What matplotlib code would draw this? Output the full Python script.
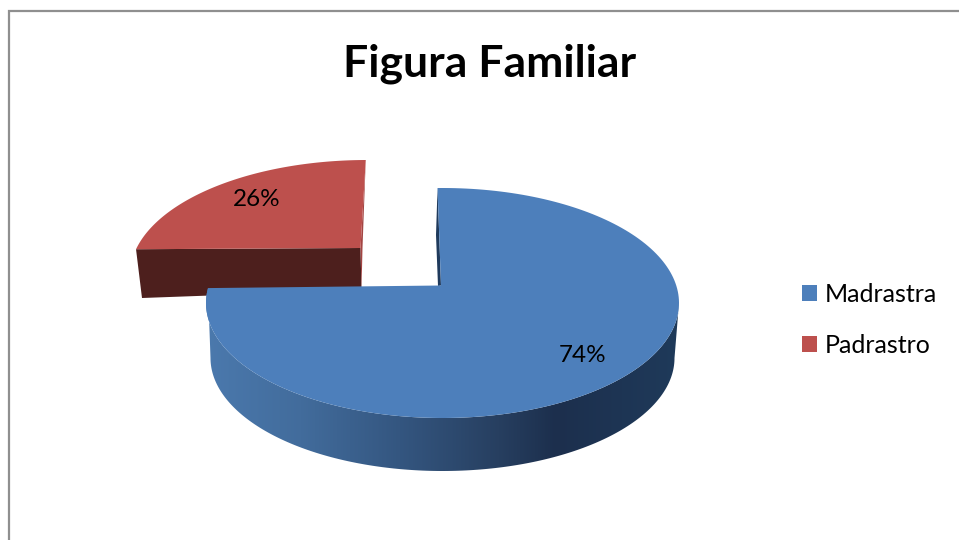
import numpy as np
import matplotlib
matplotlib.use("Agg")
import matplotlib.pyplot as plt
from matplotlib.patches import Polygon, Patch
from matplotlib.colors import LinearSegmentedColormap

categories = ["Madrastra", "Padrastro"]
shares = [74, 26]
title = "Figura Familiar"

plt.rcParams["font.family"] = ["Lato", "DejaVu Sans"]

BLUE = "#4d7fbb"
RED = "#bd504d"


def arc(cx, cy, rx, ry, t0, t1, n=200):
    t = np.radians(np.linspace(t0, t1, n))
    return np.column_stack([cx + rx * np.cos(t), cy - ry * np.sin(t)])


fig = plt.figure(figsize=(9.59, 5.4), dpi=100)
ax = fig.add_axes([0, 0, 1, 1])
ax.set_xlim(0, 959)
ax.set_ylim(540, 0)
ax.axis("off")

# outer frame, only left and top show
ax.plot([9, 9, 959], [540, 11, 11], color="#8f8f8f", lw=1.6, solid_joinstyle="miter")

# the perspective squeezes each slice a bit, so sweep = share * 3.6 * factor
rx, ry = 237, 115

# red slice (pulled out to the upper left)
red_cx, red_cy = 367, 275
red_v = (360.5, 248)
red_end = 90.3 + shares[1] * 3.6 * 0.82
red_arc = arc(red_cx, red_cy, rx, ry, 90.3, red_end)
left = red_arc[-1]
ax.add_patch(Polygon([left, red_v, (361.5, 290), (142, 298)], fc="#4d1f1d", ec="none", zorder=2))
ax.add_patch(Polygon([red_arc[0], red_v, (361.5, 290), (362.5, 248)], fc="#a34543", ec="none", zorder=2))
ax.add_patch(Polygon(np.vstack([red_arc, [red_v]]), fc=RED, ec="none", zorder=3))

# blue slice
blue_cx, blue_cy = 442.5, 303
blue_v = (441, 285.5)
blue_end = 91.2 - shares[0] * 3.6 * 1.046
blue_arc = arc(blue_cx, blue_cy, 236.5, ry, 91.2, blue_end)

# inner dark face next to the cut
ax.add_patch(Polygon([blue_arc[0], (436, 235), (438, 286), blue_v], fc="#1f3a5c", ec="none", zorder=4))

# outer side wall with the horizontal gradient
upper = arc(blue_cx, blue_cy, 236.5, ry, blue_end + 360, 360)
lower = arc(blue_cx, 358, 232, 113, 360, 180)
wall = Polygon(np.vstack([upper, lower]), fc="none", ec="none", zorder=4)
ax.add_patch(wall)
cmap = LinearSegmentedColormap.from_list(
    "wall",
    [(0.0, "#4b79ad"), (0.2, "#426c9c"), (0.41, "#345680"), (0.62, "#273f60"),
     (0.74, "#1c2f4d"), (1.0, "#1f3a5a")],
)
img = ax.imshow(np.linspace(0, 1, 256).reshape(1, -1), cmap=cmap, aspect="auto",
                extent=(206, 679, 471, 288), zorder=4)
img.set_clip_path(wall)
ax.set_xlim(0, 959)
ax.set_ylim(540, 0)

ax.add_patch(Polygon(np.vstack([blue_arc, [blue_v]]), fc=BLUE, ec="none", zorder=5))

# labels and title
ax.text(257, 200, f"{shares[1]}%", fontsize=17.5, ha="center", va="center", color="black", zorder=6)
ax.text(583, 355, f"{shares[0]}%", fontsize=17.5, ha="center", va="center", color="black", zorder=6)
ax.text(490, 64, title, fontsize=32, fontweight="bold", ha="center", va="center", color="black")

handles = [Patch(fc=BLUE, ec="none"), Patch(fc=RED, ec="none")]
ax.legend(handles, categories, loc="center left", bbox_to_anchor=(802, 320),
          bbox_transform=ax.transData, frameon=False, fontsize=18,
          handlelength=0.6, handleheight=0.62, handletextpad=0.3,
          labelspacing=1.12, borderpad=0, borderaxespad=0)

fig.savefig("out.png", dpi=100)
